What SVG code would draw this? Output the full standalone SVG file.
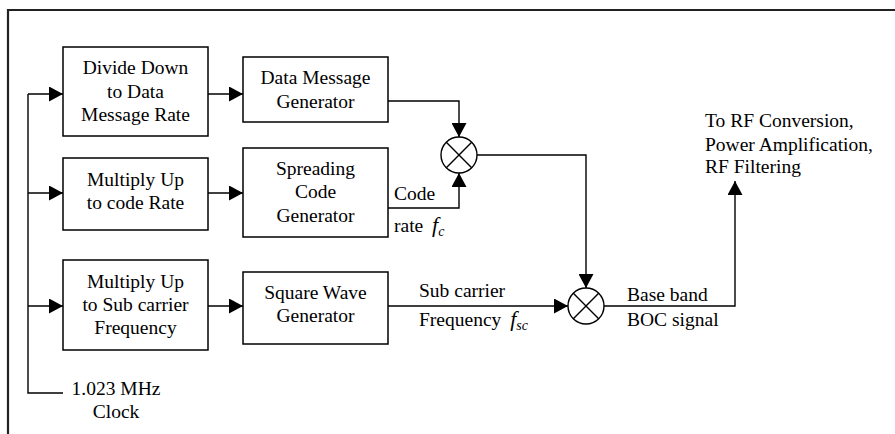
<svg xmlns="http://www.w3.org/2000/svg" width="895" height="434" viewBox="0 0 895 434" font-family="'Liberation Serif', 'DejaVu Serif', serif">
  <style>
    .box { fill: #fff; stroke: #000; stroke-width: 1.5; }
    .wire { fill: none; stroke: #000; stroke-width: 1.4; }
    .frame { fill: none; stroke: #222; stroke-width: 2.2; }
    text { font-family: 'Liberation Serif', 'DejaVu Serif', serif; font-size: 19.5px; fill: #000; }
    .c { text-anchor: middle; }
    .it { font-style: italic; }
  </style>
  <defs>
    <marker id="arrow" viewBox="0 0 14 15" refX="14" refY="7.5" markerWidth="14" markerHeight="15" markerUnits="userSpaceOnUse" orient="auto">
      <path d="M0,0 L14,7.5 L0,15 Z" fill="#000"/>
    </marker>
  </defs>

  <!-- outer frame (top and left edges only) -->
  <path class="frame" d="M8,434 V10 H895"/>

  <!-- connectors -->
  <g id="connectors">
    <!-- clock bus -->
    <path class="wire" d="M63,393 H28 V94"/>
    <path class="wire" d="M28,94 H63" marker-end="url(#arrow)"/>
    <path class="wire" d="M28,193 H63" marker-end="url(#arrow)"/>
    <path class="wire" d="M28,306 H63" marker-end="url(#arrow)"/>
    <!-- dividers/multipliers to generators -->
    <path class="wire" d="M208,94 H243" marker-end="url(#arrow)"/>
    <path class="wire" d="M208,193 H243" marker-end="url(#arrow)"/>
    <path class="wire" d="M208,306 H243" marker-end="url(#arrow)"/>
    <!-- data message into first mixer -->
    <path class="wire" d="M388,101 H459 V137" marker-end="url(#arrow)"/>
    <!-- code into first mixer -->
    <path class="wire" d="M388,208 H459 V173" marker-end="url(#arrow)"/>
    <!-- first mixer to second mixer -->
    <path class="wire" d="M477,155 H586 V288" marker-end="url(#arrow)"/>
    <!-- subcarrier into second mixer -->
    <path class="wire" d="M388,306 H568" marker-end="url(#arrow)"/>
    <!-- output -->
    <path class="wire" d="M604,306 H735 V181" marker-end="url(#arrow)"/>
  </g>

  <!-- blocks -->
  <g id="divide-down">
    <rect class="box" x="63" y="47" width="145" height="89"/>
    <text class="c" x="135.5" y="74">Divide Down</text>
    <text class="c" x="135.5" y="97.5">to Data</text>
    <text class="c" x="135.5" y="121">Message Rate</text>
  </g>
  <g id="data-message-generator">
    <rect class="box" x="243" y="57" width="145" height="65"/>
    <text class="c" x="315.5" y="84">Data Message</text>
    <text class="c" x="315.5" y="107.5">Generator</text>
  </g>
  <g id="multiply-code">
    <rect class="box" x="63" y="158" width="145" height="72"/>
    <text class="c" x="135.5" y="186">Multiply Up</text>
    <text class="c" x="135.5" y="209">to code Rate</text>
  </g>
  <g id="spreading-code-generator">
    <rect class="box" x="243" y="148" width="145" height="89"/>
    <text class="c" x="315.5" y="175">Spreading</text>
    <text class="c" x="315.5" y="198">Code</text>
    <text class="c" x="315.5" y="222">Generator</text>
  </g>
  <g id="multiply-subcarrier">
    <rect class="box" x="63" y="260" width="145" height="90"/>
    <text class="c" x="135.5" y="288">Multiply Up</text>
    <text class="c" x="135.5" y="311">to Sub carrier</text>
    <text class="c" x="135.5" y="334">Frequency</text>
  </g>
  <g id="square-wave-generator">
    <rect class="box" x="243" y="272" width="145" height="72"/>
    <text class="c" x="315.5" y="298.5">Square Wave</text>
    <text class="c" x="315.5" y="322">Generator</text>
  </g>

  <!-- mixers -->
  <g id="mixer-1">
    <circle class="wire" cx="459" cy="155" r="18"/>
    <path class="wire" d="M446.3,142.3 L471.7,167.7 M471.7,142.3 L446.3,167.7"/>
  </g>
  <g id="mixer-2">
    <circle class="wire" cx="586" cy="306" r="18"/>
    <path class="wire" d="M573.3,293.3 L598.7,318.7 M598.7,293.3 L573.3,318.7"/>
  </g>

  <!-- signal labels -->
  <g id="label-code-rate">
    <text x="394" y="200">Code</text>
    <text x="394" y="232">rate <tspan class="it" font-size="22" dx="4">f</tspan><tspan class="it" font-size="14" dy="4">c</tspan></text>
  </g>
  <g id="label-subcarrier">
    <text x="419" y="297">Sub carrier</text>
    <text x="419" y="326">Frequency <tspan class="it" font-size="22" dx="4">f</tspan><tspan class="it" font-size="14" dy="4">sc</tspan></text>
  </g>
  <g id="label-baseband">
    <text x="627" y="301">Base band</text>
    <text x="627" y="326">BOC signal</text>
  </g>
  <g id="label-rf">
    <text x="705" y="127">To RF Conversion,</text>
    <text x="705" y="151">Power Amplification,</text>
    <text x="705" y="173">RF Filtering</text>
  </g>
  <g id="label-clock">
    <text class="c" x="116" y="395">1.023 MHz</text>
    <text class="c" x="116" y="418">Clock</text>
  </g>
</svg>
